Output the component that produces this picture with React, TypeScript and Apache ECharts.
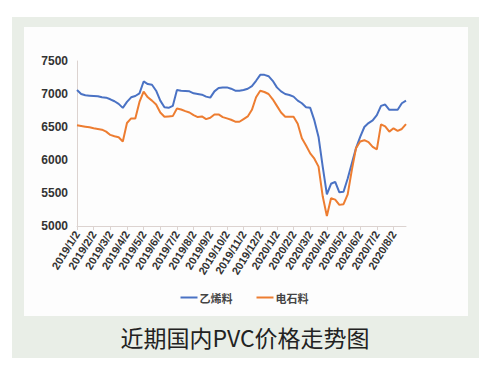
import React, { useEffect, useRef } from "react";
import * as echarts from "echarts";

const months = [
  "2019/1", "2019/2", "2019/3", "2019/4", "2019/5", "2019/6", "2019/7", "2019/8",
  "2019/9", "2019/10", "2019/11", "2019/12", "2020/1", "2020/2", "2020/3", "2020/4",
  "2020/5", "2020/6", "2020/7", "2020/8",
];
const weekDays = [2, 9, 16, 23];
const categories = months.flatMap((m) => weekDays.map((d) => `${m}/${d}`));

const seriesNames = ["乙烯料", "电石料"];

const ethyleneValues = [
  7060, 7000, 6980, 6975, 6970, 6965, 6950, 6945, 6920, 6890,
  6850, 6790, 6880, 6950, 6970, 7010, 7190, 7150, 7140, 7050,
  6900, 6800, 6790, 6820, 7060, 7050, 7045, 7040, 7010, 7000,
  6990, 6960, 6945, 7040, 7090, 7100, 7100, 7080, 7050, 7050,
  7060, 7080, 7120, 7200, 7290, 7290, 7270, 7200, 7100, 7040,
  7000, 6985, 6960, 6900, 6860, 6800, 6790, 6600, 6350, 5900,
  5480, 5640, 5670, 5510, 5520, 5720, 5950, 6180, 6350, 6500,
  6560, 6600, 6680, 6820, 6840, 6760, 6760, 6760, 6860, 6900,
];

const carbideValues = [
  6525, 6515, 6505, 6495, 6480, 6470, 6460, 6430, 6380, 6360,
  6345, 6280, 6560, 6630, 6630, 6880, 7035, 6950, 6900, 6840,
  6720, 6655, 6660, 6665, 6780, 6765, 6740, 6720, 6680, 6650,
  6660, 6620, 6640, 6690, 6690, 6650, 6630, 6610, 6580, 6580,
  6620, 6660, 6760, 6950, 7050, 7030, 7000, 6920, 6820, 6720,
  6655, 6655, 6655, 6550, 6330, 6220, 6100, 6020, 5900, 5450,
  5150, 5420, 5400, 5320, 5330, 5480, 5850, 6180, 6280, 6300,
  6270, 6200, 6160, 6540, 6510, 6430, 6480, 6440, 6470, 6545,
];

const yMin = 5000;
const yMax = 7500;
const yStep = 500;

const title = "近期国内PVC价格走势图";

export default function App() {
  const ref = useRef<HTMLDivElement>(null);

  useEffect(() => {
    if (!ref.current) return;
    const chart = echarts.init(ref.current, undefined, { renderer: "svg" });
    chart.setOption({
      animation: false,
      backgroundColor: "#ffffff",
      textStyle: { fontFamily: "Liberation Sans, Arial, sans-serif" },
      graphic: [
        {
          type: "rect",
          z: -100,
          silent: true,
          shape: { x: 12, y: 17, width: 467, height: 341 },
          style: { fill: "#e9eee7" },
        },
        {
          type: "rect",
          z: -99,
          silent: true,
          shape: { x: 24, y: 27, width: 444, height: 289 },
          style: { fill: "#fdfdfd" },
        },
        {
          type: "text",
          z: 10,
          x: 245,
          y: 337,
          style: {
            text: title,
            fill: "#222222",
            font: '23px "Noto Sans CJK SC", sans-serif',
            textAlign: "center",
            textVerticalAlign: "middle",
          },
        },
      ],
      legend: {
        data: seriesNames,
        bottom: 69,
        left: "center",
        icon: "rect",
        itemWidth: 17,
        itemHeight: 2,
        itemGap: 24,
        textStyle: {
          fontSize: 11,
          fontWeight: "bold",
          color: "#444444",
          padding: [0, 0, 0, -3],
          fontFamily: '"Noto Sans CJK SC", sans-serif',
        },
      },
      grid: { left: 77, right: 83, top: 61, bottom: 151, containLabel: false },
      xAxis: {
        type: "category",
        data: categories,
        boundaryGap: false,
        axisLine: { lineStyle: { color: "#dcd3d0", width: 1 } },
        axisTick: { show: true, interval: 3, length: 4, lineStyle: { color: "#dcd3d0" } },
        axisLabel: {
          interval: 3,
          rotate: 58,
          fontSize: 11,
          fontWeight: "bold",
          color: "#333333",
          margin: 6,
        },
        splitLine: { show: false },
      },
      yAxis: {
        type: "value",
        min: yMin,
        max: yMax,
        interval: yStep,
        axisLine: { show: true, lineStyle: { color: "#dcd3d0", width: 1 } },
        axisTick: { show: false },
        axisLabel: {
          fontSize: 12,
          fontWeight: "bold",
          color: "#333333",
          margin: 9,
          formatter: (v: number) => String(v),
        },
        splitLine: { show: false },
      },
      series: [
        {
          name: seriesNames[0],
          type: "line",
          data: ethyleneValues,
          showSymbol: false,
          symbol: "none",
          lineStyle: { color: "#4a72c4", width: 2 },
          itemStyle: { color: "#4a72c4" },
        },
        {
          name: seriesNames[1],
          type: "line",
          data: carbideValues,
          showSymbol: false,
          symbol: "none",
          lineStyle: { color: "#ed7d31", width: 2 },
          itemStyle: { color: "#ed7d31" },
        },
      ],
    });
    return () => chart.dispose();
  }, []);

  return (
    <div
      ref={ref}
      style={{ position: "fixed", left: 0, top: 0, width: 489, height: 377 }}
    />
  );
}
